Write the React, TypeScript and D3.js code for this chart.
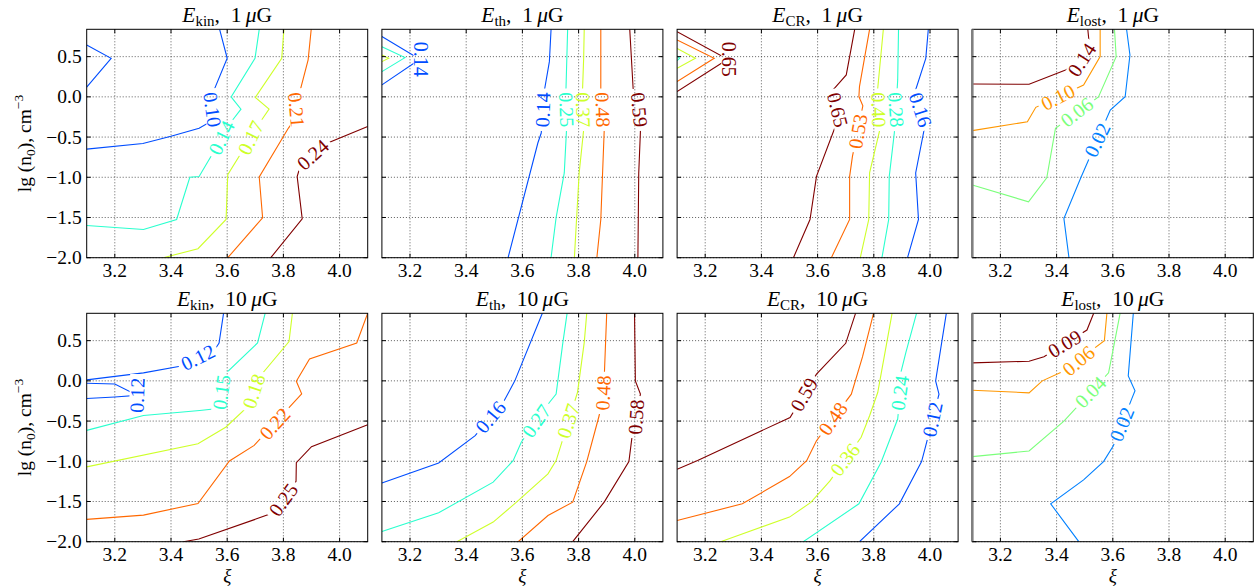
import React from 'react';
import * as d3 from 'd3';

type Pt = [number, number];
type Line = { level: number; pts: Pt[] };
type Lab = [number, number, number, number]; // level, x, y, rotation

const xTicks = [3.2, 3.4, 3.6, 3.8, 4.0];
const yTicks = [-2.0, -1.5, -1.0, -0.5, 0.0, 0.5];
const xDomain: Pt = [3.1, 4.1];
const yDomain: Pt = [-2.0, 0.84];

// ---------- E_kin, 1 muG ----------
const ekin1Levels = [0.10, 0.14, 0.17, 0.21, 0.24];
const ekin1Lines: Line[] = [
  { level: 0.10, pts: [[3.1, 0.645], [3.187, 0.479], [3.1, 0.12]] },
  { level: 0.10, pts: [[3.573, 0.84], [3.6, 0.48], [3.555, 0.1], [3.545, -0.3], [3.5, -0.39], [3.4, -0.49], [3.3, -0.58], [3.1, -0.65]] },
  { level: 0.14, pts: [[3.714, 0.84], [3.699, 0.48], [3.614, 0.0], [3.649, -0.153], [3.62, -0.285], [3.532, -0.8], [3.5, -0.99], [3.467, -1.0], [3.42, -1.525], [3.302, -1.649], [3.1, -1.6]] },
  { level: 0.17, pts: [[3.802, 0.84], [3.794, 0.48], [3.7, -0.008], [3.749, -0.153], [3.72, -0.3], [3.602, -0.967], [3.596, -1.525], [3.496, -1.888], [3.373, -2.0]] },
  { level: 0.21, pts: [[3.899, 0.84], [3.888, 0.46], [3.85, -0.05], [3.846, -0.25], [3.818, -0.388], [3.714, -0.996], [3.726, -1.504], [3.602, -2.0]] },
  { level: 0.24, pts: [[4.1, -0.37], [3.96, -0.57], [3.855, -0.92], [3.849, -0.99], [3.867, -1.517], [3.755, -2.0]] },
];
const ekin1Labels: Lab[] = [
  [0.10, 3.547, -0.16, 82], [0.14, 3.58, -0.51, -64], [0.17, 3.684, -0.51, -64],
  [0.21, 3.846, -0.16, 85], [0.24, 3.905, -0.72, -42],
];

// ---------- E_th, 1 muG ----------
const eth1Levels = [0.14, 0.25, 0.37, 0.48, 0.59];
const eth1Lines: Line[] = [
  { level: 0.14, pts: [[3.1, 0.75], [3.235, 0.467], [3.1, 0.149]] },
  { level: 0.25, pts: [[3.1, 0.624], [3.182, 0.488], [3.1, 0.314]] },
  { level: 0.37, pts: [[3.1, 0.52], [3.124, 0.479], [3.1, 0.438]] },
  { level: 0.14, pts: [[3.702, 0.84], [3.696, 0.438], [3.679, 0.095], [3.667, -0.45], [3.655, -0.574], [3.549, -2.0]] },
  { level: 0.25, pts: [[3.761, 0.84], [3.755, 0.087], [3.757, -0.409], [3.749, -0.946], [3.72, -1.5], [3.702, -2.0]] },
  { level: 0.37, pts: [[3.82, 0.84], [3.818, 0.479], [3.814, 0.087], [3.818, -0.409], [3.802, -0.946], [3.785, -2.0]] },
  { level: 0.48, pts: [[3.879, 0.84], [3.879, 0.107], [3.891, -0.43], [3.879, -1.525], [3.865, -2.0]] },
  { level: 0.59, pts: [[3.982, 0.84], [3.994, 0.107], [4.02, -0.43], [4.014, -0.946], [4.011, -2.0]] },
];
const eth1Labels: Lab[] = [
  [0.14, 3.24, 0.467, 90], [0.14, 3.673, -0.16, -88], [0.25, 3.757, -0.16, 88],
  [0.37, 3.816, -0.16, 88], [0.48, 3.886, -0.16, 88], [0.59, 4.016, -0.16, 85],
];

// ---------- E_CR, 1 muG ----------
const ecr1Levels = [0.16, 0.28, 0.40, 0.53, 0.65];
const ecr1Lines: Line[] = [
  { level: 0.65, pts: [[3.1, 0.81], [3.28, 0.467], [3.1, 0.066]] },
  { level: 0.53, pts: [[3.1, 0.707], [3.232, 0.479], [3.1, 0.19]] },
  { level: 0.40, pts: [[3.1, 0.603], [3.165, 0.479], [3.1, 0.355]] },
  { level: 0.28, pts: [[3.1, 0.508], [3.109, 0.479], [3.1, 0.45]] },
  { level: 0.65, pts: [[3.732, 0.84], [3.702, 0.273], [3.655, 0.087], [3.68, -0.3], [3.661, -0.388], [3.596, -0.988], [3.573, -1.525], [3.514, -2.0]] },
  { level: 0.53, pts: [[3.785, 0.84], [3.749, 0.128], [3.747, 0.004], [3.761, -0.112], [3.724, -0.74], [3.714, -0.988], [3.714, -1.525], [3.649, -2.0]] },
  { level: 0.40, pts: [[3.834, 0.84], [3.814, 0.107], [3.82, -0.43], [3.785, -0.946], [3.782, -1.525], [3.752, -2.0]] },
  { level: 0.28, pts: [[3.888, 0.84], [3.885, 0.211], [3.879, -0.161], [3.873, -0.45], [3.855, -0.988], [3.853, -1.525], [3.829, -2.0]] },
  { level: 0.16, pts: [[3.994, 0.84], [3.985, 0.479], [3.949, 0.087], [3.979, -0.409], [3.949, -0.946], [3.959, -1.525], [3.92, -2.0]] },
];
const ecr1Labels: Lab[] = [
  [0.65, 3.285, 0.467, 90], [0.65, 3.671, -0.16, 76], [0.53, 3.744, -0.43, -80],
  [0.40, 3.817, -0.16, 88], [0.28, 3.879, -0.16, 86], [0.16, 3.966, -0.16, 72],
];

// ---------- E_lost, 1 muG ----------
const elost1Levels = [0.02, 0.06, 0.10, 0.14];
const elost1Lines: Line[] = [
  { level: 0.14, pts: [[3.511, 0.84], [3.515, 0.70], [3.499, 0.45], [3.432, 0.334], [3.302, 0.156], [3.1, 0.16]] },
  { level: 0.10, pts: [[3.555, 0.84], [3.555, 0.5], [3.496, 0.147], [3.326, -0.13], [3.296, -0.31], [3.1, -0.42]] },
  { level: 0.06, pts: [[3.606, 0.84], [3.612, 0.5], [3.549, 0.0], [3.396, -0.392], [3.365, -1.006], [3.3, -1.305], [3.1, -1.097]] },
  { level: 0.02, pts: [[3.649, 0.84], [3.661, 0.521], [3.644, 0.002], [3.591, -0.164], [3.485, -1.015], [3.426, -1.512], [3.444, -2.0]] },
];
const elost1Labels: Lab[] = [
  [0.14, 3.49, 0.46, -57], [0.10, 3.405, -0.006, -27], [0.06, 3.472, -0.19, -38], [0.02, 3.545, -0.537, -64],
];

// ---------- E_kin, 10 muG ----------
const ekin10Levels = [0.12, 0.15, 0.18, 0.22, 0.25];
const ekin10Lines: Line[] = [
  { level: 0.12, pts: [[3.587, 0.84], [3.571, 0.471], [3.558, 0.4], [3.432, 0.182], [3.302, 0.099], [3.1, 0.012]] },
  { level: 0.12, pts: [[3.1, -0.03], [3.2, -0.04], [3.28, -0.18], [3.2, -0.2], [3.1, -0.22]] },
  { level: 0.15, pts: [[3.735, 0.84], [3.708, 0.471], [3.585, 0.06], [3.575, -0.34], [3.502, -0.368], [3.302, -0.43], [3.1, -0.616]] },
  { level: 0.18, pts: [[3.832, 0.84], [3.82, 0.488], [3.72, 0.07], [3.667, -0.339], [3.596, -0.574], [3.496, -0.781], [3.1, -1.07]] },
  { level: 0.22, pts: [[4.1, 0.84], [4.061, 0.471], [3.893, 0.273], [3.846, -0.004], [3.865, -0.161], [3.696, -0.802], [3.608, -0.996], [3.496, -1.525], [3.302, -1.669], [3.1, -1.723]] },
  { level: 0.25, pts: [[4.1, -0.545], [3.9, -0.818], [3.846, -1.017], [3.845, -1.25], [3.767, -1.636], [3.702, -1.719], [3.499, -1.967], [3.444, -2.0]] },
];
const ekin10Labels: Lab[] = [
  [0.12, 3.496, 0.29, -26], [0.12, 3.28, -0.18, -88], [0.15, 3.58, -0.14, -82],
  [0.18, 3.695, -0.13, -72], [0.22, 3.77, -0.533, -48], [0.25, 3.80, -1.48, -54],
];

// ---------- E_th, 10 muG ----------
const eth10Levels = [0.16, 0.27, 0.37, 0.48, 0.58];
const eth10Lines: Line[] = [
  { level: 0.16, pts: [[3.671, 0.84], [3.573, 0.0], [3.535, -0.248], [3.432, -0.682], [3.302, -1.021], [3.1, -1.269]] },
  { level: 0.27, pts: [[3.759, 0.84], [3.744, 0.475], [3.72, -0.165], [3.696, -0.269], [3.596, -0.764], [3.567, -0.992], [3.496, -1.26], [3.302, -1.64], [3.1, -1.872]] },
  { level: 0.37, pts: [[3.829, 0.84], [3.82, 0.475], [3.796, -0.145], [3.72, -0.992], [3.691, -1.157], [3.579, -1.508], [3.496, -1.756], [3.367, -2.0]] },
  { level: 0.48, pts: [[3.9, 0.84], [3.891, 0.021], [3.885, -0.2], [3.873, -0.434], [3.829, -1.004], [3.779, -1.508], [3.691, -1.674], [3.585, -2.0]] },
  { level: 0.58, pts: [[3.999, 0.84], [4.002, 0.0], [4.02, -0.165], [3.99, -0.7], [3.979, -1.004], [3.891, -1.508], [3.779, -2.0]] },
];
const eth10Labels: Lab[] = [
  [0.16, 3.487, -0.45, -50], [0.27, 3.65, -0.5, -55], [0.37, 3.764, -0.5, -72],
  [0.48, 3.888, -0.15, -87], [0.58, 4.005, -0.45, -86],
];

// ---------- E_CR, 10 muG ----------
const ecr10Levels = [0.12, 0.24, 0.36, 0.48, 0.59];
const ecr10Lines: Line[] = [
  { level: 0.59, pts: [[3.735, 0.84], [3.7, 0.467], [3.596, 0.083], [3.502, -0.455], [3.173, -0.99], [3.1, -1.1]] },
  { level: 0.48, pts: [[3.799, 0.84], [3.76, 0.3], [3.72, -0.165], [3.596, -0.744], [3.561, -0.992], [3.5, -1.19], [3.332, -1.529], [3.1, -1.736]] },
  { level: 0.36, pts: [[3.865, 0.84], [3.814, -0.145], [3.785, -0.434], [3.755, -0.702], [3.644, -1.244], [3.576, -1.512], [3.5, -1.694], [3.255, -2.0]] },
  { level: 0.24, pts: [[3.952, 0.84], [3.914, 0.351], [3.896, 0.1], [3.89, -0.3], [3.885, -0.475], [3.826, -1.012], [3.747, -1.529], [3.549, -2.0]] },
  { level: 0.12, pts: [[4.058, 0.84], [4.02, 0.0], [4.032, -0.165], [3.985, -0.806], [3.97, -1.004], [3.891, -1.529], [3.749, -2.0]] },
];
const ecr10Labels: Lab[] = [
  [0.59, 3.552, -0.17, -60], [0.48, 3.655, -0.47, -55], [0.36, 3.698, -0.98, -52],
  [0.24, 3.893, -0.15, -82], [0.12, 4.009, -0.48, -78],
];

// ---------- E_lost, 10 muG ----------
const elost10Levels = [0.02, 0.04, 0.06, 0.09];
const elost10Lines: Line[] = [
  { level: 0.09, pts: [[3.532, 0.84], [3.508, 0.632], [3.355, 0.3], [3.302, 0.244], [3.1, 0.223]] },
  { level: 0.06, pts: [[3.579, 0.84], [3.57, 0.5], [3.426, 0.121], [3.349, 0.0], [3.302, -0.149], [3.1, -0.116]] },
  { level: 0.04, pts: [[3.626, 0.84], [3.608, 0.512], [3.585, 0.1], [3.426, -0.5], [3.302, -0.872], [3.1, -0.942]] },
  { level: 0.02, pts: [[3.673, 0.84], [3.655, 0.062], [3.679, -0.124], [3.667, -0.227], [3.602, -0.806], [3.567, -1.004], [3.496, -1.231], [3.379, -1.529], [3.479, -2.0]] },
];
const elost10Labels: Lab[] = [
  [0.09, 3.429, 0.46, -31], [0.06, 3.478, 0.25, -40], [0.04, 3.521, -0.14, -46], [0.02, 3.632, -0.54, -68],
];

const panels = [
  { sub: 'kin', field: '1', levels: ekin1Levels, lines: ekin1Lines, labels: ekin1Labels },
  { sub: 'th', field: '1', levels: eth1Levels, lines: eth1Lines, labels: eth1Labels },
  { sub: 'CR', field: '1', levels: ecr1Levels, lines: ecr1Lines, labels: ecr1Labels },
  { sub: 'lost', field: '1', levels: elost1Levels, lines: elost1Lines, labels: elost1Labels },
  { sub: 'kin', field: '10', levels: ekin10Levels, lines: ekin10Lines, labels: ekin10Labels },
  { sub: 'th', field: '10', levels: eth10Levels, lines: eth10Lines, labels: eth10Labels },
  { sub: 'CR', field: '10', levels: ecr10Levels, lines: ecr10Lines, labels: ecr10Labels },
  { sub: 'lost', field: '10', levels: elost10Levels, lines: elost10Lines, labels: elost10Labels },
];

// matplotlib "jet" colormap
const jetR = d3.scaleLinear([0, 0.35, 0.66, 0.89, 1], [0, 0, 1, 1, 0.5]).clamp(true);
const jetG = d3.scaleLinear([0, 0.125, 0.375, 0.64, 0.91, 1], [0, 0, 1, 1, 0, 0]).clamp(true);
const jetB = d3.scaleLinear([0, 0.11, 0.34, 0.65, 1], [0.5, 1, 1, 0, 0]).clamp(true);
const jet = (t: number) => d3.rgb(jetR(t) * 255, jetG(t) * 255, jetB(t) * 255).formatHex();

const FONT = '"Liberation Serif", "DejaVu Serif", serif';
const LEFT = 86.7;
const COL_STEP = 295.2;
const PW = 281;
const PH = 228.4;
const ROW_TOP = [29.3, 313.3];
const TICK_FS = 19.5;
const LAB_FS = 20;
const fmtTick = (v: number) => (v < 0 ? '\u2212' : '') + Math.abs(v).toFixed(1);

function Panel({ idx }: { idx: number }) {
  const p = panels[idx];
  const col = idx % 4;
  const row = Math.floor(idx / 4);
  const x0 = LEFT + col * COL_STEP;
  const y0 = ROW_TOP[row];
  const xs = d3.scaleLinear(xDomain, [x0, x0 + PW]);
  const ys = d3.scaleLinear(yDomain, [y0 + PH, y0]);
  const line = d3.line<Pt>().x((d) => xs(d[0])).y((d) => ys(d[1]));
  const n = p.levels.length;
  const color = (lv: number) => jet((p.levels.indexOf(lv) + 1) / n);
  const clipId = `clip-${idx}`;
  const labW = (s: string) => (s.length - 1) * 0.5 * LAB_FS + 0.27 * LAB_FS + 7;
  const labH = LAB_FS * 0.78;

  return (
    <g>
      <defs>
        <clipPath id={clipId}>
          <rect x={x0} y={y0} width={PW} height={PH} />
        </clipPath>
        {p.levels.map((lv, li) => (
          <mask id={`mask-${idx}-${li}`} key={li} maskUnits="userSpaceOnUse" x={0} y={0} width={1255} height={588}>
            <rect x={0} y={0} width={1255} height={588} fill="white" />
            {p.labels
              .filter((l) => l[0] === lv)
              .map((l, k) => {
                const s = l[0].toFixed(2);
                const w = labW(s);
                return (
                  <rect
                    key={k}
                    x={-w / 2}
                    y={-labH / 2}
                    width={w}
                    height={labH}
                    fill="black"
                    transform={`translate(${xs(l[1])},${ys(l[2])}) rotate(${l[3]})`}
                  />
                );
              })}
          </mask>
        ))}
      </defs>
      {/* grid */}
      <g stroke="#000" strokeWidth={0.8} strokeDasharray="1,2" opacity={0.8}>
        {xTicks.map((t) => (
          <line key={'gx' + t} x1={xs(t)} x2={xs(t)} y1={y0} y2={y0 + PH} />
        ))}
        {yTicks.map((t) => (
          <line key={'gy' + t} x1={x0} x2={x0 + PW} y1={ys(t)} y2={ys(t)} />
        ))}
      </g>
      {/* contours */}
      <g clipPath={`url(#${clipId})`}>
        {p.lines.map((l, i) => (
          <path
            key={i}
            d={line(l.pts) || ''}
            fill="none"
            stroke={color(l.level)}
            strokeWidth={1.1}
            mask={`url(#mask-${idx}-${p.levels.indexOf(l.level)})`}
          />
        ))}
      </g>
      {/* contour labels */}
      {p.labels.map((l, i) => (
        <text
          key={i}
          transform={`translate(${xs(l[1])},${ys(l[2])}) rotate(${l[3]})`}
          textAnchor="middle"
          dy="0.34em"
          fontFamily={FONT}
          fontSize={LAB_FS}
          fill={color(l[0])}
        >
          {l[0].toFixed(2)}
        </text>
      ))}
      {/* frame */}
      <rect x={x0} y={y0} width={PW} height={PH} fill="none" stroke="#000" strokeWidth={1} />
      {col === 3 && <line x1={x0} x2={x0} y1={y0} y2={y0 + PH} stroke="#808080" strokeWidth={2.6} />}
      {/* ticks (inward, all sides) */}
      <g stroke="#000" strokeWidth={1}>
        {xTicks.map((t) => (
          <g key={'tx' + t}>
            <line x1={xs(t)} x2={xs(t)} y1={y0 + PH} y2={y0 + PH - 4} />
            <line x1={xs(t)} x2={xs(t)} y1={y0} y2={y0 + 4} />
          </g>
        ))}
        {yTicks.map((t) => (
          <g key={'ty' + t}>
            <line x1={x0} x2={x0 + 4} y1={ys(t)} y2={ys(t)} />
            <line x1={x0 + PW} x2={x0 + PW - 4} y1={ys(t)} y2={ys(t)} />
          </g>
        ))}
      </g>
      {/* x tick labels */}
      {xTicks.map((t) => (
        <text key={'xl' + t} x={xs(t)} y={y0 + PH + 19} textAnchor="middle" fontFamily={FONT} fontSize={TICK_FS} fill="#000">
          {t.toFixed(1)}
        </text>
      ))}
      {/* y tick labels */}
      {col === 0 &&
        yTicks.map((t) => (
          <text key={'yl' + t} x={x0 - 5} y={ys(t)} dy="0.34em" textAnchor="end" fontFamily={FONT} fontSize={TICK_FS} fill="#000">
            {fmtTick(t)}
          </text>
        ))}
      {/* title */}
      <text x={x0 + PW / 2} y={y0 - 7.6} textAnchor="middle" fontFamily={FONT} fontSize={21.5} fill="#000">
        <tspan fontStyle="italic">E</tspan>
        <tspan fontSize={15} dy={4}>{p.sub}</tspan>
        <tspan dy={-4}>{',\u2002' + p.field + '\u2009'}</tspan>
        <tspan fontStyle="italic">{'\u03bc'}</tspan>
        <tspan>G</tspan>
      </text>
      {/* y axis label */}
      {col === 0 && (
        <text transform={`translate(31,${y0 + PH / 2}) rotate(-90)`} textAnchor="middle" fontFamily={FONT} fontSize={19.5} fill="#000">
          <tspan>lg (n</tspan>
          <tspan fontSize={13.5} dy={4}>0</tspan>
          <tspan dy={-4}>), cm</tspan>
          <tspan fontSize={13.5} dy={-8}>{'\u22123'}</tspan>
        </text>
      )}
      {/* x axis label */}
      {row === 1 && (
        <text x={x0 + PW / 2} y={582} textAnchor="middle" fontFamily={FONT} fontSize={19} fontStyle="italic" fill="#000">
          {'\u03be'}
        </text>
      )}
    </g>
  );
}

export default function App() {
  return (
    <svg
      width={1255}
      height={588}
      viewBox="0 0 1255 588"
      style={{ position: 'absolute', left: 0, top: 0, background: '#fff' }}
    >
      <rect x={0} y={0} width={1255} height={588} fill="#fff" />
      {panels.map((_, i) => (
        <Panel key={i} idx={i} />
      ))}
    </svg>
  );
}
